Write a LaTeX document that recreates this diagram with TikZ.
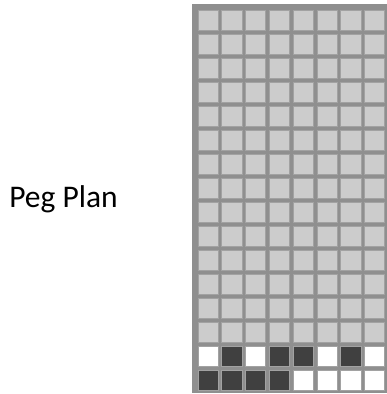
\documentclass[tikz,border=0pt]{standalone}
\usepackage{fontspec}
\setmainfont{Carlito}
\usetikzlibrary{positioning}
\definecolor{FrameGray}{HTML}{8F8F8F}
\definecolor{PegLight}{HTML}{CCCCCC}
\definecolor{PegDark}{HTML}{404040}
\definecolor{PegEdge}{HTML}{A2A2A2}

\begin{document}
\begin{tikzpicture}[x=1pt,y=-1pt,
  peg/.style={draw=PegEdge,line width=0.8pt}]
  \useasboundingbox (0,0) rectangle (387,394);
  \fill[FrameGray] (192,4) rectangle (392,393);
  \foreach \c in {0,...,7}
    \foreach \r in {0,...,13}
      \filldraw[peg,fill=PegLight] ({198+23.8*\c},{10+24*\r}) rectangle ++(20.2,20);
  % pegs in the last two rows
  \foreach \c/\f in {0/white,1/PegDark,2/white,3/PegDark,4/PegDark,5/white,6/PegDark,7/white}
    \filldraw[peg,fill=\f] ({198+23.8*\c},346) rectangle ++(20.2,20);
  \foreach \c/\f in {0/PegDark,1/PegDark,2/PegDark,3/PegDark,4/white,5/white,6/white,7/white}
    \filldraw[peg,fill=\f] ({198+23.8*\c},370) rectangle ++(20.2,20);
  \node[font=\fontsize{31.5}{38}\selectfont,anchor=base] (title) at (63.5,207.5) {Peg Plan};
\end{tikzpicture}
\end{document}
